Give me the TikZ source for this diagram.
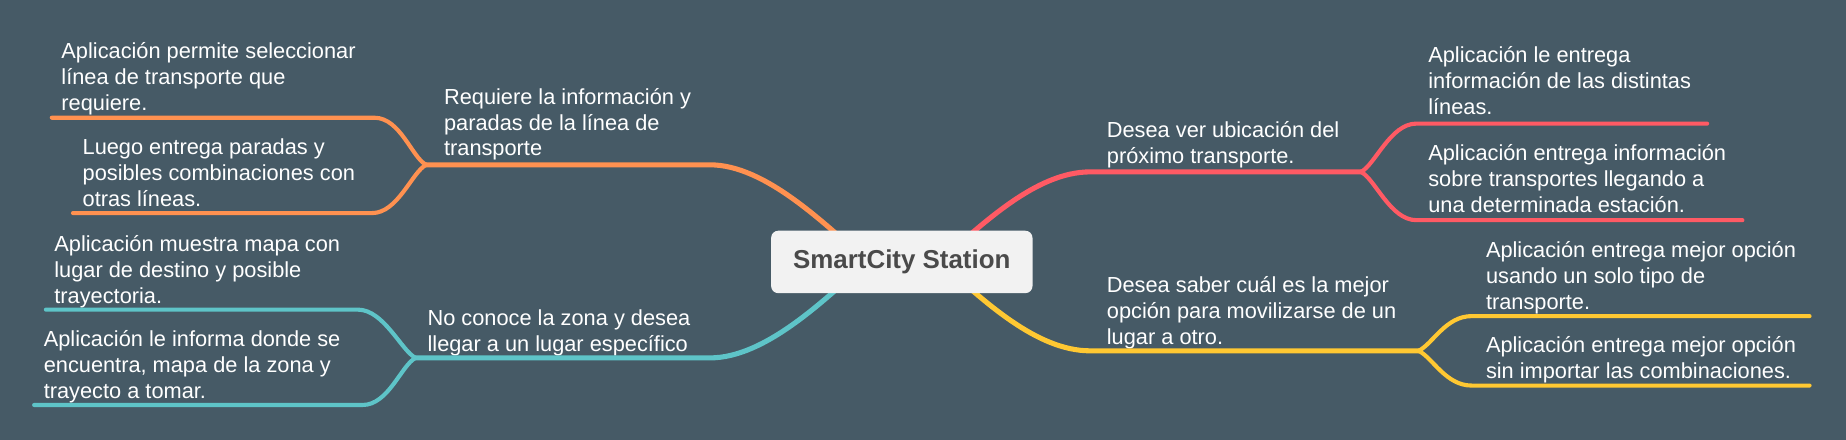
\documentclass[tikz,border=0pt]{standalone}
\usepackage{fontspec}
\setmainfont{Liberation Sans}
\usetikzlibrary{calc}

\definecolor{bg}{HTML}{465A66}
\definecolor{orangeb}{HTML}{FF9150}
\definecolor{redb}{HTML}{FF5A64}
\definecolor{tealb}{HTML}{5EC4C8}
\definecolor{yellowb}{HTML}{FFC832}
\definecolor{rootfill}{HTML}{F2F2F2}
\definecolor{roottext}{HTML}{4A4A4A}

\begin{document}
\begin{tikzpicture}[x=1pt, y=-1pt,
    txt/.style={anchor=base west, align=left, inner sep=0pt, text=white,
      font=\fontsize{18.5}{22}\selectfont},
    main/.style={line width=4.3pt, line cap=round},
    sub/.style={line width=3.5pt, line cap=round}]
  \useasboundingbox (0,0) rectangle (1568,373.7);
  \fill[bg] (0,0) rectangle (1568,373.7);

  % texts (anchored at the last line)
  \node[txt] (a1) at (52,93.5) {Aplicación permite seleccionar\\línea de transporte que\\requiere.};
  \node[txt] (a2) at (70,175.5) {Luego entrega paradas y\\posibles combinaciones con\\otras líneas.};
  \node[txt] (a) at (377,132.5) {Requiere la información y\\paradas de la línea de\\transporte};
  \node[txt] (b1) at (46,257.5) {Aplicación muestra mapa con\\lugar de destino y posible\\trayectoria.};
  \node[txt] (b2) at (37,338.5) {Aplicación le informa donde se\\encuentra, mapa de la zona y\\trayecto a tomar.};
  \node[txt] (b) at (363,298.5) {No conoce la zona y desea\\llegar a un lugar específico};
  \node[txt] (c) at (940,138.5) {Desea ver ubicación del\\próximo transporte.};
  \node[txt] (c1) at (1213,97.5) {Aplicación le entrega\\información de las distintas\\líneas.};
  \node[txt] (c2) at (1213,180.5) {Aplicación entrega información\\sobre transportes llegando a\\una determinada estación.};
  \node[txt] (d) at (940,292.5) {Desea saber cuál es la mejor\\opción para movilizarse de un\\lugar a otro.};
  \node[txt] (d1) at (1262,262.5) {Aplicación entrega mejor opción\\usando un solo tipo de\\transporte.};
  \node[txt] (d2) at (1262,321.5) {Aplicación entrega mejor opción\\sin importar las combinaciones.};

  % branch points
  \coordinate (l0) at (737,222);
  \coordinate (r0) at (798,222);
  \coordinate (aj) at (362,140);
  \coordinate (a1e) at (44,100);
  \coordinate (a2e) at (62,181);
  \coordinate (bj) at (353,304);
  \coordinate (b1e) at (39,263);
  \coordinate (b2e) at (29,344);
  \coordinate (cj) at (1156,146);
  \coordinate (c1e) at (1450,105);
  \coordinate (c2e) at (1480,187);
  \coordinate (dj) at (1205,298);
  \coordinate (d1e) at (1537,268.5);
  \coordinate (d2e) at (1537,327.5);

  \draw[main, orangeb] (l0) .. controls (700,190) and (650,140) .. (603,140) -- (aj);
  \draw[sub, orangeb] (aj) .. controls +(-12,-6) and +(22,0) .. (318,100) -- (a1e);
  \draw[sub, orangeb] (aj) .. controls +(-12,6) and +(22,0) .. (316,181) -- (a2e);

  \draw[main, tealb] (l0) .. controls (700,255) and (650,304) .. (603,304) -- (bj);
  \draw[sub, tealb] (bj) .. controls +(-12,-6) and +(22,0) .. (304,263) -- (b1e);
  \draw[sub, tealb] (bj) .. controls +(-12,6) and +(22,0) .. (308,344) -- (b2e);

  \draw[main, redb] (r0) .. controls (835,190) and (880,146) .. (926,146) -- (cj);
  \draw[sub, redb] (cj) .. controls +(12,-6) and +(-22,0) .. (1203,105) -- (c1e);
  \draw[sub, redb] (cj) .. controls +(12,6) and +(-22,0) .. (1203,187) -- (c2e);

  \draw[main, yellowb] (r0) .. controls (835,255) and (880,298) .. (926,298) -- (dj);
  \draw[sub, yellowb] (dj) .. controls +(12,-6) and +(-22,0) .. (1250,268.5) -- (d1e);
  \draw[sub, yellowb] (dj) .. controls +(12,6) and +(-22,0) .. (1250,327.5) -- (d2e);

  \node[fill=rootfill, rounded corners=6pt, minimum width=222pt, minimum height=53pt,
    inner sep=0pt, text=roottext, font=\bfseries\fontsize{22}{26}\selectfont]
    (root) at (766,222.5) {SmartCity Station};
\end{tikzpicture}
\end{document}
